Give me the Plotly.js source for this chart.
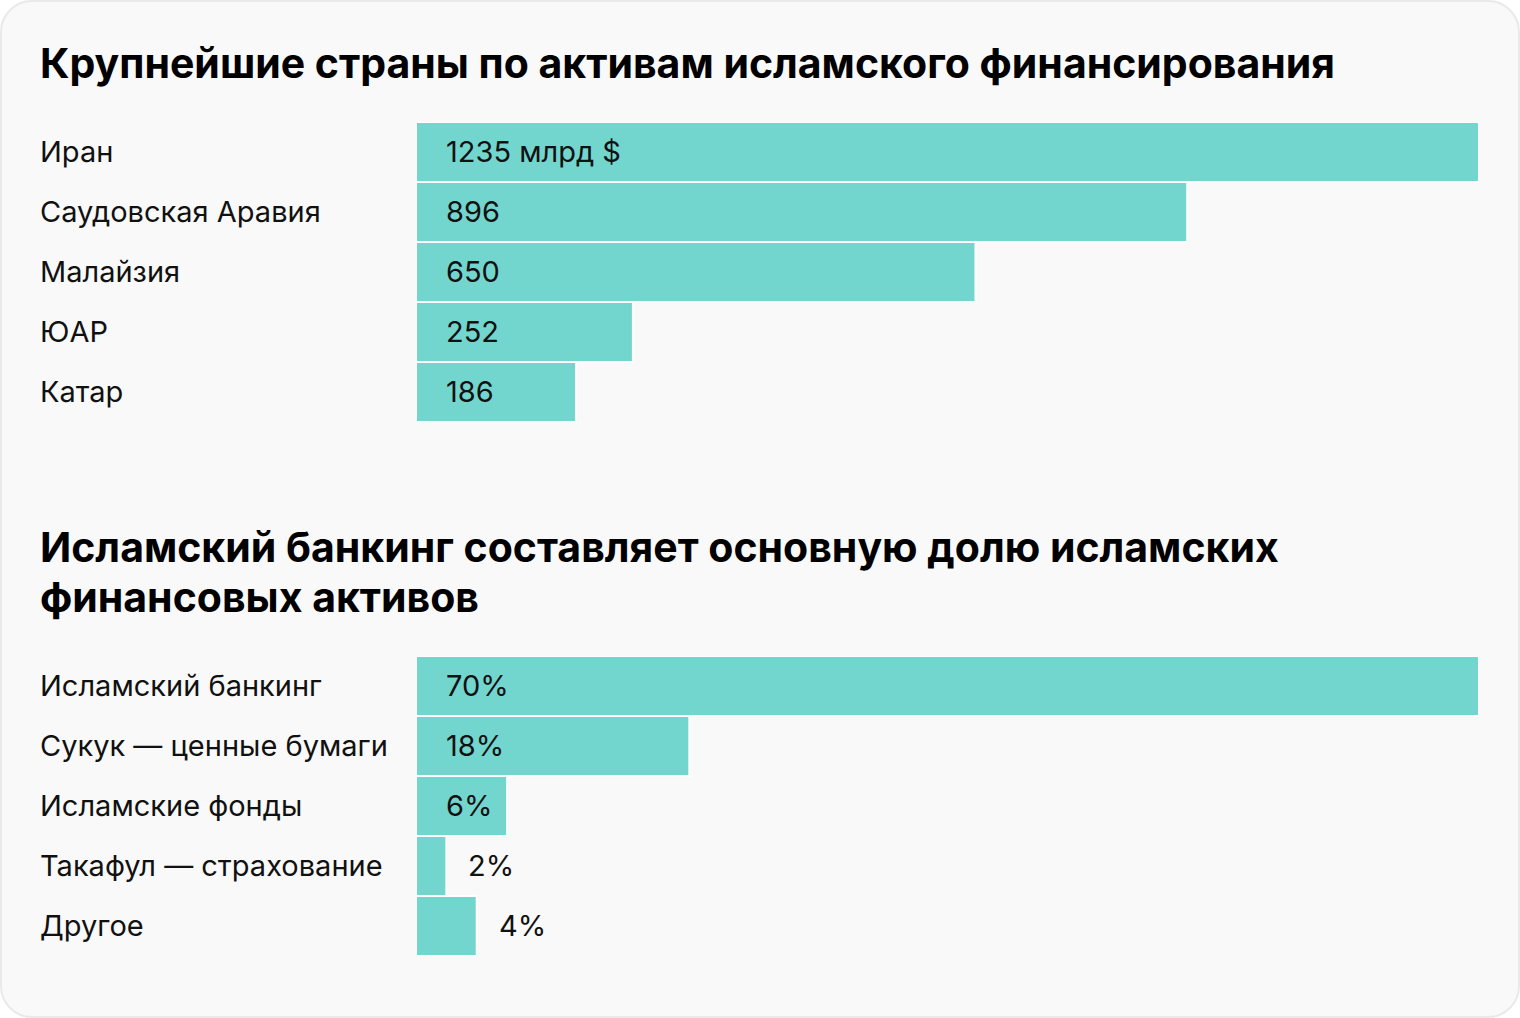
<!DOCTYPE html>
<html>
<head>
<meta charset="utf-8">
<script src="https://cdn.plot.ly/plotly-3.0.1.min.js"></script>
<style>
  html, body { margin: 0; padding: 0; background: #ffffff; }
  #wrap { position: relative; width: 1520px; height: 1018px; }
  #card { position: absolute; left: 0; top: 0; width: 1520px; height: 1018px; box-sizing: border-box;
          border: 2px solid #e9e9e9; border-radius: 32px; background: #f9f9f9; }
  #chart { position: absolute; left: 0; top: 0; width: 1520px; height: 1018px; }
</style>
</head>
<body>
<div id="wrap"><div id="card"></div><div id="chart"></div></div>
<script>
// ---- data ----
const title1 = ["Крупнейшие страны по активам исламского финансирования"];
const countries = ["Иран", "Саудовская Аравия", "Малайзия", "ЮАР", "Катар"];
const countryAssets = [1235, 896, 650, 252, 186];
const countryLabels = ["1235 млрд $", "896", "650", "252", "186"];

const title2 = ["Исламский банкинг составляет основную долю исламских", "финансовых активов"];
const segments = ["Исламский банкинг", "Сукук — ценные бумаги", "Исламские фонды", "Такафул — страхование", "Другое"];
const segmentShares = [70, 18, 6, 2, 4];
const segmentLabels = ["70%", "18%", "6%", "2%", "4%"];

// ---- layout helpers ----
const W = 1520, H = 1018;
const px = x => x / W;
const py = y => 1 - y / H;
const barColor = "#72d6cf";
const FONT = "Inter, Roboto, 'Noto Sans', sans-serif";
const plotLeft = 416, plotRight = 1479;
const LABEL_SIZE = 29;

function barTrace(cats, vals, xa, ya) {
  return {
    type: "bar", orientation: "h", y: cats, x: vals, xaxis: xa, yaxis: ya,
    width: 1, marker: { color: barColor, line: { color: "#ffffff", width: 2 } },
    hoverinfo: "skip", showlegend: false
  };
}

const data = [
  barTrace(countries, countryAssets, "x", "y"),
  barTrace(segments, segmentShares, "x2", "y2")
];

const annotations = [];
function addLabels(cats, vals, labels, xref, yref) {
  const maxV = Math.max(...vals);
  cats.forEach((c, i) => {
    annotations.push({
      xref: "paper", yref: yref, x: px(38), y: c, xanchor: "left", yanchor: "middle", yshift: 1,
      text: c, showarrow: false, font: { family: FONT, size: LABEL_SIZE, color: "#111111" }
    });
    const barPx = vals[i] / maxV * (plotRight - plotLeft);
    const inside = barPx > 75;
    annotations.push({
      xref: xref, yref: yref, x: inside ? 0 : vals[i], y: c,
      xanchor: "left", yanchor: "middle", yshift: 1, xshift: inside ? 28 : 20,
      text: labels[i], showarrow: false, font: { family: FONT, size: LABEL_SIZE, color: "#111111" }
    });
  });
}
addLabels(countries, countryAssets, countryLabels, "x", "y");
addLabels(segments, segmentShares, segmentLabels, "x2", "y2");

function addTitle(lines, firstMid) {
  lines.forEach((t, i) => {
    annotations.push({
      xref: "paper", yref: "paper", x: px(38), y: py(firstMid + i * 50), xanchor: "left", yanchor: "middle",
      text: "<b>" + t + "</b>", showarrow: false, align: "left",
      font: { family: FONT, size: 41, color: "#000000" }
    });
  });
}
addTitle(title1, 63);
addTitle(title2, 547);

const hidden = { showgrid: false, zeroline: false, showticklabels: false, showline: false, ticks: "", fixedrange: true };

const layout = {
  width: W, height: H,
  margin: { l: 0, r: 0, t: 0, b: 0, pad: 0 },
  paper_bgcolor: "rgba(0,0,0,0)", plot_bgcolor: "rgba(0,0,0,0)",
  bargap: 0,
  xaxis: Object.assign({}, hidden, { domain: [px(plotLeft), px(plotRight)], range: [0, Math.max(...countryAssets)], anchor: "y" }),
  yaxis: Object.assign({}, hidden, { domain: [py(422), py(122)], type: "category", categoryarray: countries, range: [4.5, -0.5], anchor: "x" }),
  xaxis2: Object.assign({}, hidden, { domain: [px(plotLeft), px(plotRight)], range: [0, Math.max(...segmentShares)], anchor: "y2" }),
  yaxis2: Object.assign({}, hidden, { domain: [py(956), py(656)], type: "category", categoryarray: segments, range: [4.5, -0.5], anchor: "x2" }),
  annotations: annotations
};

Plotly.newPlot("chart", data, layout, { staticPlot: true, displayModeBar: false });
</script>
</body>
</html>
